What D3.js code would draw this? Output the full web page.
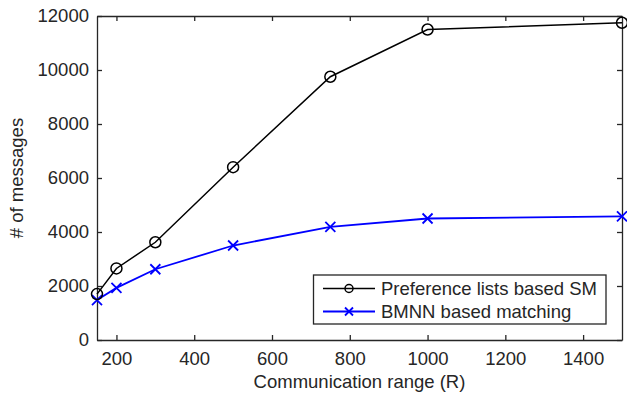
<!DOCTYPE html>
<html>
<head>
<meta charset="utf-8">
<script src="https://cdn.jsdelivr.net/npm/d3@7"></script>
<style>
  body { margin: 0; background: #fff; }
  svg { display: block; font-family: "Liberation Sans", Arial, sans-serif; }
</style>
</head>
<body>
<div id="root"></div>
<script>
// values
var ranges = [150, 200, 300, 500, 750, 1000, 1500];
var prefSM = [1700, 2650, 3620, 6400, 9750, 11500, 11750];
var bmnn = [1480, 1930, 2620, 3500, 4190, 4500, 4580];
var xTicks = [200, 400, 600, 800, 1000, 1200, 1400];
var yTicks = [0, 2000, 4000, 6000, 8000, 10000, 12000];
var seriesNames = ["Preference lists based SM", "BMNN based matching"];

var svgWidth = 627, svgHeight = 396;
var margin = { top: 16, right: 5, bottom: 56, left: 97 };
var axisColor = "#262626";
var fontSize = "18.5px";

var svg = d3.select("#root").append("svg")
  .attr("width", svgWidth).attr("height", svgHeight);

var x = d3.scaleLinear().domain([150, 1500])
  .range([margin.left, svgWidth - margin.right]);
var y = d3.scaleLinear().domain([0, 12000])
  .range([svgHeight - margin.bottom, margin.top]);

function styleAxis(g) {
  g.select(".domain").attr("stroke", axisColor).attr("stroke-width", 1.3);
  g.selectAll(".tick line").attr("stroke", axisColor).attr("stroke-width", 1.3);
  g.selectAll(".tick text").attr("fill", axisColor).attr("font-size", fontSize)
    .attr("font-family", "Liberation Sans, Arial, sans-serif");
}

// bottom + left with labels, ticks pointing in
svg.append("g")
  .attr("transform", "translate(0," + y(0) + ")")
  .call(d3.axisBottom(x).tickValues(xTicks).tickFormat(d3.format("d"))
    .tickSize(-5).tickSizeOuter(0).tickPadding(12))
  .call(styleAxis);

svg.append("g")
  .attr("transform", "translate(" + x(150) + ",0)")
  .call(d3.axisLeft(y).tickValues(yTicks).tickFormat(d3.format("d"))
    .tickSize(-5).tickSizeOuter(0).tickPadding(8))
  .call(styleAxis);

// top + right box edges
svg.append("g")
  .attr("transform", "translate(0," + y(12000) + ")")
  .call(d3.axisTop(x).tickValues(xTicks).tickSize(-5).tickSizeOuter(0).tickFormat(""))
  .call(styleAxis);

svg.append("g")
  .attr("transform", "translate(" + x(1500) + ",0)")
  .call(d3.axisRight(y).tickValues(yTicks).tickSize(-5).tickSizeOuter(0).tickFormat(""))
  .call(styleAxis);

// axis titles
svg.append("text")
  .attr("x", (x(150) + x(1500)) / 2)
  .attr("y", 388)
  .attr("text-anchor", "middle")
  .attr("font-size", fontSize)
  .attr("fill", axisColor)
  .text("Communication range (R)");

svg.append("text")
  .attr("transform", "translate(23," + (y(0) + y(12000)) / 2 + ") rotate(-90)")
  .attr("text-anchor", "middle")
  .attr("font-size", fontSize)
  .attr("fill", axisColor)
  .text("# of messages");

var line = d3.line()
  .x(function(d) { return x(d[0]); })
  .y(function(d) { return y(d[1]); });

var blackPts = ranges.map(function(r, i) { return [r, prefSM[i]]; });
var bluePts = ranges.map(function(r, i) { return [r, bmnn[i]]; });

function crossPath(s) {
  return "M" + (-s) + "," + (-s) + "L" + s + "," + s + "M" + (-s) + "," + s + "L" + s + "," + (-s);
}

// blue series
svg.append("path")
  .datum(bluePts)
  .attr("fill", "none").attr("stroke", "#0000ff").attr("stroke-width", 1.8)
  .attr("d", line);
svg.selectAll(".xmark")
  .data(bluePts)
  .enter().append("path")
  .attr("class", "xmark")
  .attr("transform", function(d) { return "translate(" + x(d[0]) + "," + y(d[1]) + ")"; })
  .attr("d", crossPath(5))
  .attr("stroke", "#0000ff").attr("stroke-width", 1.8).attr("fill", "none");

// black series
svg.append("path")
  .datum(blackPts)
  .attr("fill", "none").attr("stroke", "#000").attr("stroke-width", 1.5)
  .attr("d", line);
svg.selectAll(".omark")
  .data(blackPts)
  .enter().append("circle")
  .attr("class", "omark")
  .attr("cx", function(d) { return x(d[0]); })
  .attr("cy", function(d) { return y(d[1]); })
  .attr("r", 5.5)
  .attr("fill", "none").attr("stroke", "#000").attr("stroke-width", 1.5);

// legend
var legend = svg.append("g");
legend.append("rect")
  .attr("x", 313.5).attr("y", 275)
  .attr("width", 292.5).attr("height", 49)
  .attr("fill", "#fff").attr("stroke", axisColor).attr("stroke-width", 1.3);

var rows = [
  { name: seriesNames[0], color: "#000", mark: "o", yy: 288.5 },
  { name: seriesNames[1], color: "#0000ff", mark: "x", yy: 311.5 }
];
rows.forEach(function(r) {
  legend.append("line")
    .attr("x1", 323).attr("x2", 375).attr("y1", r.yy).attr("y2", r.yy)
    .attr("stroke", r.color).attr("stroke-width", r.mark === "o" ? 1.5 : 1.8);
  if (r.mark === "o") {
    legend.append("circle").attr("cx", 349).attr("cy", r.yy).attr("r", 4)
      .attr("fill", "none").attr("stroke", r.color).attr("stroke-width", 1.5);
  } else {
    legend.append("path").attr("transform", "translate(349," + r.yy + ")")
      .attr("d", crossPath(4)).attr("stroke", r.color).attr("stroke-width", 1.8);
  }
  legend.append("text")
    .attr("x", 381).attr("y", r.yy).attr("dy", "0.35em")
    .attr("font-size", fontSize).attr("fill", axisColor)
    .text(r.name);
});
</script>
</body>
</html>
